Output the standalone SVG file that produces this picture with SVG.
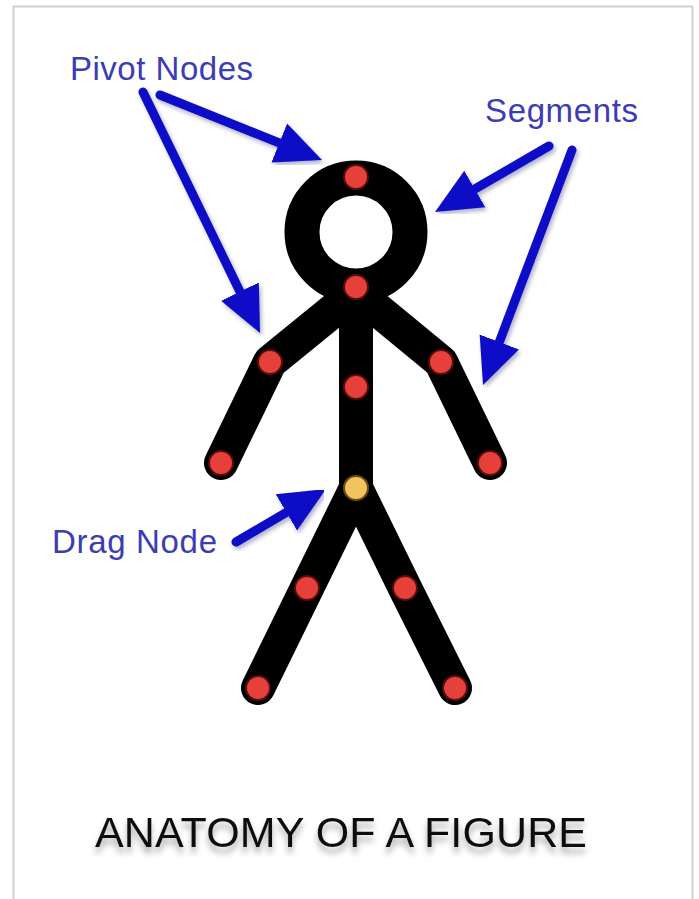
<svg xmlns="http://www.w3.org/2000/svg" width="699" height="899" viewBox="0 0 699 899">
  <style>
    .limb { fill: none; stroke: #000; stroke-width: 34; stroke-linecap: round; stroke-linejoin: round; }
    .pivot { fill: #e6403a; stroke: #5a0c0c; stroke-width: 2; }
    .drag { fill: #f2c35e; stroke: #6b4a10; stroke-width: 2; }
    .arrow { fill: none; stroke: #0a0ac8; stroke-width: 9; stroke-linecap: round; marker-end: url(#head); filter: url(#soft); }
    .label { font-family: "Liberation Sans", Arial, sans-serif; font-size: 33px; fill: #3c3cb4; }
    .title { font-family: "Liberation Sans", Arial, sans-serif; font-size: 43px; fill: #111; filter: url(#titleShadow); }
  </style>
  <defs>
    <marker id="head" markerUnits="userSpaceOnUse" markerWidth="48" markerHeight="44" refX="26" refY="22" orient="auto" viewBox="0 0 48 44">
      <path d="M0,1 L46,22 L0,43 Z" fill="#0a0ac8"/>
    </marker>
    <filter id="soft" x="-20%" y="-20%" width="140%" height="140%">
      <feDropShadow dx="2" dy="3" stdDeviation="2" flood-color="#000050" flood-opacity="0.3"/>
    </filter>
    <filter id="titleShadow" x="-10%" y="-30%" width="120%" height="180%">
      <feDropShadow dx="0" dy="6" stdDeviation="3" flood-color="#000" flood-opacity="0.35"/>
    </filter>
  </defs>

  <rect x="0" y="0" width="699" height="899" fill="#fff"/>
  <rect x="13.5" y="6.5" width="679" height="900" fill="none" stroke="#cfcfcf" stroke-width="2"/>

  <!-- stick figure -->
  <g id="figure">
    <circle id="head-ring" cx="356" cy="232" r="54" fill="none" stroke="#000" stroke-width="35"/>
    <path id="spine" class="limb" d="M356,287 L356,488"/>
    <path id="left-arm" class="limb" d="M356,292 L270,362 L221,463"/>
    <path id="right-arm" class="limb" d="M356,292 L441,362 L490,463"/>
    <path id="left-leg" class="limb" d="M356,488 L307,588 L258,688"/>
    <path id="right-leg" class="limb" d="M356,488 L405,588 L455,688"/>
  </g>

  <!-- joints -->
  <g id="pivot-nodes">
    <circle class="pivot" cx="356" cy="177" r="12"/>
    <circle class="pivot" cx="356" cy="287" r="12"/>
    <circle class="pivot" cx="356" cy="387" r="12"/>
    <circle class="pivot" cx="270" cy="362" r="12"/>
    <circle class="pivot" cx="221" cy="463" r="12"/>
    <circle class="pivot" cx="441" cy="362" r="12"/>
    <circle class="pivot" cx="490" cy="463" r="12"/>
    <circle class="pivot" cx="307" cy="588" r="12"/>
    <circle class="pivot" cx="258" cy="688" r="12"/>
    <circle class="pivot" cx="405" cy="588" r="12"/>
    <circle class="pivot" cx="455" cy="688" r="12"/>
  </g>
  <g id="drag-node">
    <circle class="drag" cx="356" cy="488" r="12"/>
  </g>

  <!-- callout arrows -->
  <g id="connectors">
    <path class="arrow" d="M160,95 L303.4,152.6"/>
    <path class="arrow" d="M143,92 L251.3,315"/>
    <path class="arrow" d="M549,146 L452.3,202"/>
    <path class="arrow" d="M572,150 L490.1,366.3"/>
    <path class="arrow" d="M236,542 L308.8,499.2"/>
  </g>

  <!-- labels -->
  <g id="label-pivot"><text class="label" x="70" y="80" textLength="183">Pivot Nodes</text></g>
  <g id="label-segments"><text class="label" x="485" y="122" textLength="153">Segments</text></g>
  <g id="label-drag"><text class="label" x="52" y="553" textLength="165">Drag Node</text></g>
  <g id="title"><text class="title" x="95" y="847" textLength="492">ANATOMY OF A FIGURE</text></g>
</svg>
